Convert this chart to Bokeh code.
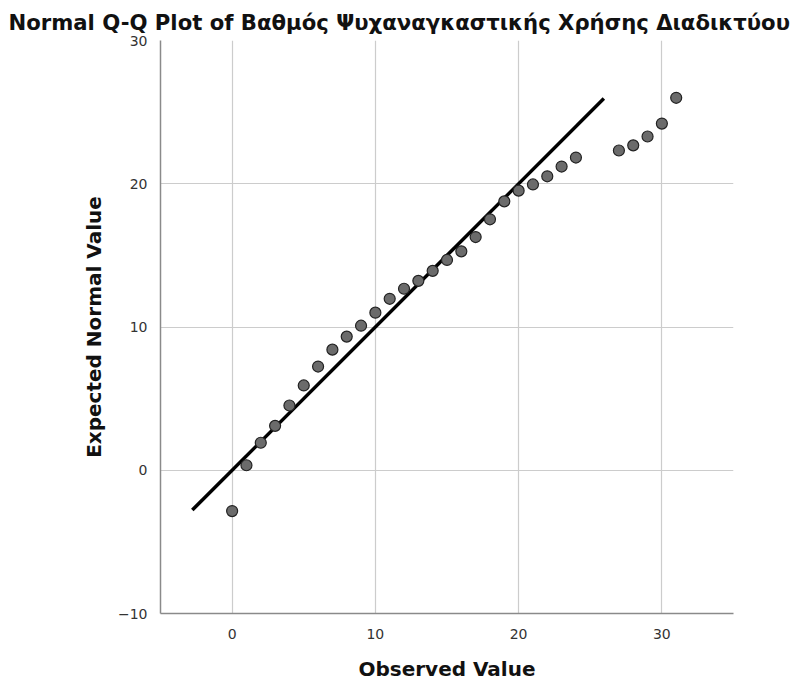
from bokeh.plotting import figure
from bokeh.models import Range1d, FixedTicker
from bokeh.embed import file_html
from bokeh.resources import INLINE

# Data
observed = [0, 1, 2, 3, 4, 5, 6, 7, 8, 9, 10, 11, 12, 13, 14, 15, 16, 17, 18, 19,
            20, 21, 22, 23, 24, 27, 28, 29, 30, 31]
expected = [-2.85, 0.35, 1.92, 3.1, 4.52, 5.92, 7.24, 8.42, 9.33, 10.09, 11.0, 11.97,
            12.67, 13.22, 13.92, 14.68, 15.28, 16.28, 17.52, 18.77, 19.52, 19.95,
            20.52, 21.2, 21.83, 22.32, 22.68, 23.3, 24.2, 26.0]
line_x = [-2.78, 25.95]
line_y = [-2.78, 25.95]
x_ticks = [0, 10, 20, 30]
y_ticks = [-10, 0, 10, 20, 30]

FONT = "DejaVu Sans"

p = figure(width=795, height=683, output_backend="svg", toolbar_location=None,
           x_range=Range1d(-5, 35), y_range=Range1d(-10, 30),
           min_border_left=160, min_border_right=62, min_border_top=40,
           min_border_bottom=69,
           title="Normal Q-Q Plot of Βαθμός Ψυχαναγκαστικής Χρήσης Διαδικτύου")

p.title.text_font = FONT
p.title.text_font_size = "21.2px"
p.title.text_font_style = "bold"
p.title.text_color = "#111111"
p.title.align = "left"
p.title.offset = -152
p.title.standoff = 12

p.outline_line_color = None
p.background_fill_color = "white"

p.xaxis.ticker = FixedTicker(ticks=x_ticks)
p.yaxis.ticker = FixedTicker(ticks=y_ticks)
for ax in (p.xaxis, p.yaxis):
    ax.major_tick_line_color = None
    ax.minor_tick_line_color = None
    ax.axis_line_color = "#8a8a8a"
    ax.axis_line_width = 1.5
    ax.major_label_text_font = FONT
    ax.major_label_text_font_size = "14px"
    ax.major_label_text_color = "#333333"
    ax.axis_label_text_font = FONT
    ax.axis_label_text_font_style = "bold"
    ax.axis_label_text_color = "#111111"
    ax.axis_label_text_font_size = "20px"

p.xaxis.axis_label = "Observed Value"
p.xaxis.axis_label_standoff = 15
p.xaxis.major_label_standoff = 9

p.yaxis.axis_label = "Expected Normal Value"
p.yaxis.axis_label_standoff = 9
p.yaxis.major_label_standoff = 7

p.xgrid.ticker = FixedTicker(ticks=x_ticks)
p.ygrid.ticker = FixedTicker(ticks=y_ticks)
p.xgrid.grid_line_color = "#cccccc"
p.ygrid.grid_line_color = "#cccccc"
p.xgrid.grid_line_width = 1.2
p.ygrid.grid_line_width = 1.2

p.line(line_x, line_y, line_color="black", line_width=3.5)
p.scatter(observed, expected, size=11, fill_color="#6b6b6b",
          line_color="#222222", line_width=1.2)

open("out.html", "w").write(file_html(p, INLINE))
